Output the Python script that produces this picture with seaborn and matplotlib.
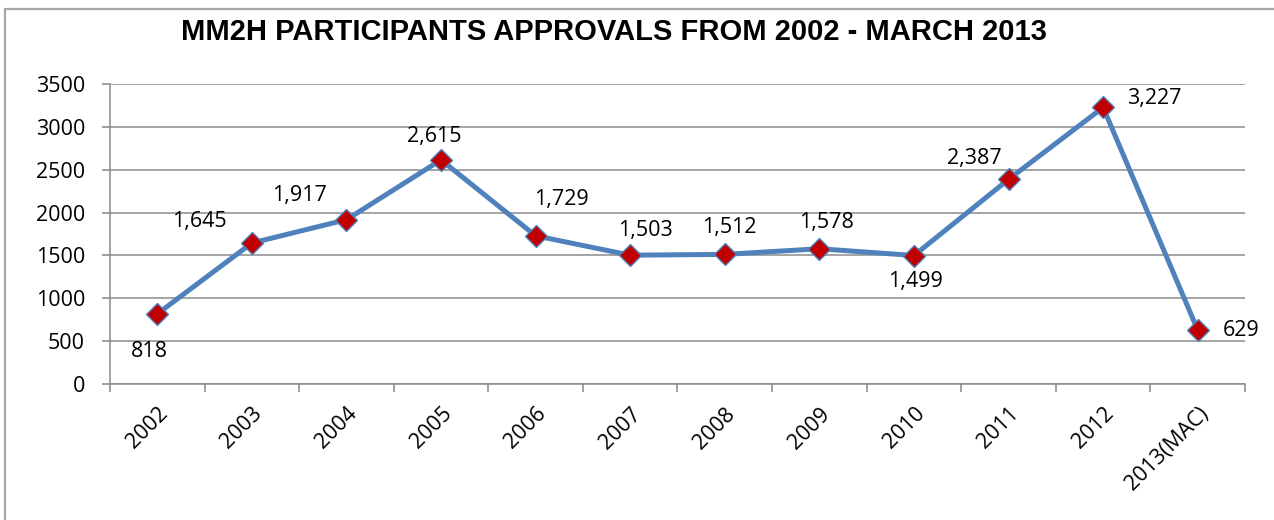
import matplotlib
matplotlib.use("Agg")
import matplotlib.pyplot as plt
from matplotlib.lines import Line2D
import seaborn as sns
import pandas as pd

# MM2H approvals per year
years = ['2002', '2003', '2004', '2005', '2006', '2007', '2008', '2009',
         '2010', '2011', '2012', '2013(MAC)']
approvals = [818, 1645, 1917, 2615, 1729, 1503, 1512, 1578, 1499, 2387, 3227, 629]
# where each data label sits relative to its point (pixels)
label_offsets = [(-8, -38), (-53, 22), (-47, 24), (-7, 23), (26, 36), (15, 25),
                 (5, 27), (7, 26), (2, -26), (-34, 21), (51, 9), (43, 0)]

sns.set_theme(style="white")
plt.rcParams['font.family'] = ['Open Sans', 'DejaVu Sans']
plt.rcParams['text.color'] = 'black'

df = pd.DataFrame({'Year': years, 'Approvals': approvals})

fig = plt.figure(figsize=(12.74, 5.2), dpi=100)
ax = fig.add_axes([110 / 1274, 136 / 520, 1135 / 1274, 300 / 520])

sns.lineplot(data=df, x='Year', y='Approvals', sort=False, ax=ax,
             color='#4F81BD', linewidth=3.6, marker='D', markersize=11.5,
             markerfacecolor='#C00000', markeredgecolor='#4F81BD', markeredgewidth=1)

for i, (v, off) in enumerate(zip(approvals, label_offsets)):
    ax.annotate(f'{v:,}', (i, v), xytext=off, textcoords='offset pixels',
                ha='center', va='center', fontsize=15.5, color='black')

ax.set_xlim(-0.5, len(years) - 0.5)
ax.set_ylim(0, 3500)
ax.set_yticks(range(0, 3501, 500))
ax.set_xticks(range(len(years)))
ax.set_xticklabels(years, rotation=45, ha='right', rotation_mode='anchor', fontsize=15.5)
ax.set_xticks([i - 0.5 for i in range(len(years) + 1)], minor=True)
ax.tick_params(axis='y', labelsize=15.5, length=6, width=1.1, color='#888888',
               labelcolor='black', pad=12, left=True)
ax.tick_params(axis='x', which='major', length=0, pad=14, labelcolor='black')
ax.tick_params(axis='x', which='minor', length=6, width=1.1, color='#888888', bottom=True)
ax.set_xlabel('')
ax.set_ylabel('')
ax.yaxis.grid(True, color='#8C8C8C', linewidth=1.1)
ax.set_axisbelow(True)
for s in ['top', 'right']:
    ax.spines[s].set_visible(False)
for s in ['left', 'bottom']:
    ax.spines[s].set_color('#8C8C8C')
    ax.spines[s].set_linewidth(1.1)

fig.text(614 / 1274, 1 - 32 / 520, 'MM2H PARTICIPANTS APPROVALS FROM 2002 - MARCH 2013',
         ha='center', va='center', fontsize=21, fontweight='bold', color='black',
         family='Liberation Sans')

# outer chart frame (top and left edges visible)
fig.add_artist(Line2D([5 / 1274, 1], [1 - 9 / 520, 1 - 9 / 520], transform=fig.transFigure,
                      color='#A6A6A6', linewidth=1.6))
fig.add_artist(Line2D([5 / 1274, 5 / 1274], [0, 1 - 9 / 520], transform=fig.transFigure,
                      color='#A6A6A6', linewidth=1.6))

fig.savefig('out.png', dpi=100)
